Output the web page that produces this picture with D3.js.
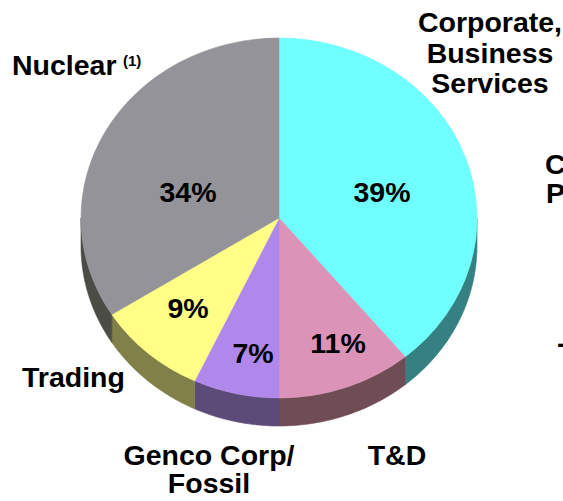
<!DOCTYPE html>
<html><head><meta charset="utf-8">
<script src="https://cdn.jsdelivr.net/npm/d3@7"></script>
<style>
html,body{margin:0;padding:0;background:#fff;overflow:hidden;}
text{font-family:"Liberation Sans",Arial,sans-serif;font-weight:bold;fill:#000;}
</style></head>
<body>
<svg id="chart" width="563" height="501"></svg>
<script>
// ---- data ----
const segments = ["Corporate, Business Services", "T&D", "Genco Corp/ Fossil", "Trading", "Nuclear"];
const shares = [39, 11, 7, 9, 34];
const topColors = ["#70ffff", "#db94b7", "#b088ec", "#ffff88", "#939399"];
const sideColors = ["#358080", "#704c55", "#5c4a78", "#808048", "#4c4c46"];

// ---- layout ----
const W = 563, H = 501;
const cx = 279, cy = 218, rx = 198, ry = 180, depth = 28;

const svg = d3.select("#chart");
svg.append("rect").attr("width", W).attr("height", H).attr("fill", "#fff");

const pieData = d3.pie().sort(null).value(d => d)(shares);

const ex = a => cx + rx * Math.sin(a);
const ey = a => cy - ry * Math.cos(a);

// side walls (front half only)
const sideG = svg.append("g");
pieData.forEach((p, i) => {
  const s = Math.max(p.startAngle, Math.PI / 2);
  const e = Math.min(p.endAngle, 3 * Math.PI / 2);
  if (e <= s) return;
  const n = 60;
  const pts = [];
  for (let k = 0; k <= n; k++) { const a = s + (e - s) * k / n; pts.push([ex(a), ey(a)]); }
  for (let k = n; k >= 0; k--) { const a = s + (e - s) * k / n; pts.push([ex(a), ey(a) + depth]); }
  sideG.append("path")
    .attr("d", d3.line()(pts) + "Z")
    .attr("fill", sideColors[i])
    .attr("stroke", sideColors[i]).attr("stroke-width", 0.6);
});

// top faces
const arcGen = d3.arc().innerRadius(0).outerRadius(rx);
const topG = svg.append("g").attr("transform", `translate(${cx},${cy}) scale(1,${ry / rx})`);
topG.selectAll("path").data(pieData).join("path")
  .attr("d", arcGen)
  .attr("fill", (d, i) => topColors[i])
  .attr("stroke", (d, i) => topColors[i]).attr("stroke-width", 0.6);

// percent labels
const pctPos = [[382, 202], [338, 353], [253, 363], [188, 318], [188, 202]];
svg.append("g").selectAll("text").data(pieData).join("text")
  .attr("x", (d, i) => pctPos[i][0]).attr("y", (d, i) => pctPos[i][1])
  .attr("text-anchor", "middle").attr("font-size", 28.5)
  .text(d => d.data + "%");

// category labels
const lab = svg.append("g").attr("font-size", 28.5);
const corp = lab.append("text").attr("text-anchor", "middle");
["Corporate,", "Business", "Services"].forEach((t, k) =>
  corp.append("tspan").attr("x", 490).attr("y", 32 + k * 30.5).text(t));
lab.append("text").attr("x", 397).attr("y", 465).attr("text-anchor", "middle").text(segments[1]);
const genco = lab.append("text").attr("text-anchor", "middle");
["Genco Corp/", "Fossil"].forEach((t, k) =>
  genco.append("tspan").attr("x", 209).attr("y", 465 + k * 28).text(t));
lab.append("text").attr("x", 22).attr("y", 387).text(segments[3]);
const nuc = lab.append("text").attr("x", 12).attr("y", 75);
nuc.append("tspan").text(segments[4]);
nuc.append("tspan").attr("x", 123).attr("y", 66).attr("font-size", 15).text("(1)");

// text fragments cut off at the right edge (as in the source image)
const frag = lab.append("text");
frag.append("tspan").attr("x", 545).attr("y", 174).text("Co");
frag.append("tspan").attr("x", 546).attr("y", 203).text("Pe");
lab.append("text").attr("x", 557).attr("y", 353).text("-");
</script>
</body></html>
